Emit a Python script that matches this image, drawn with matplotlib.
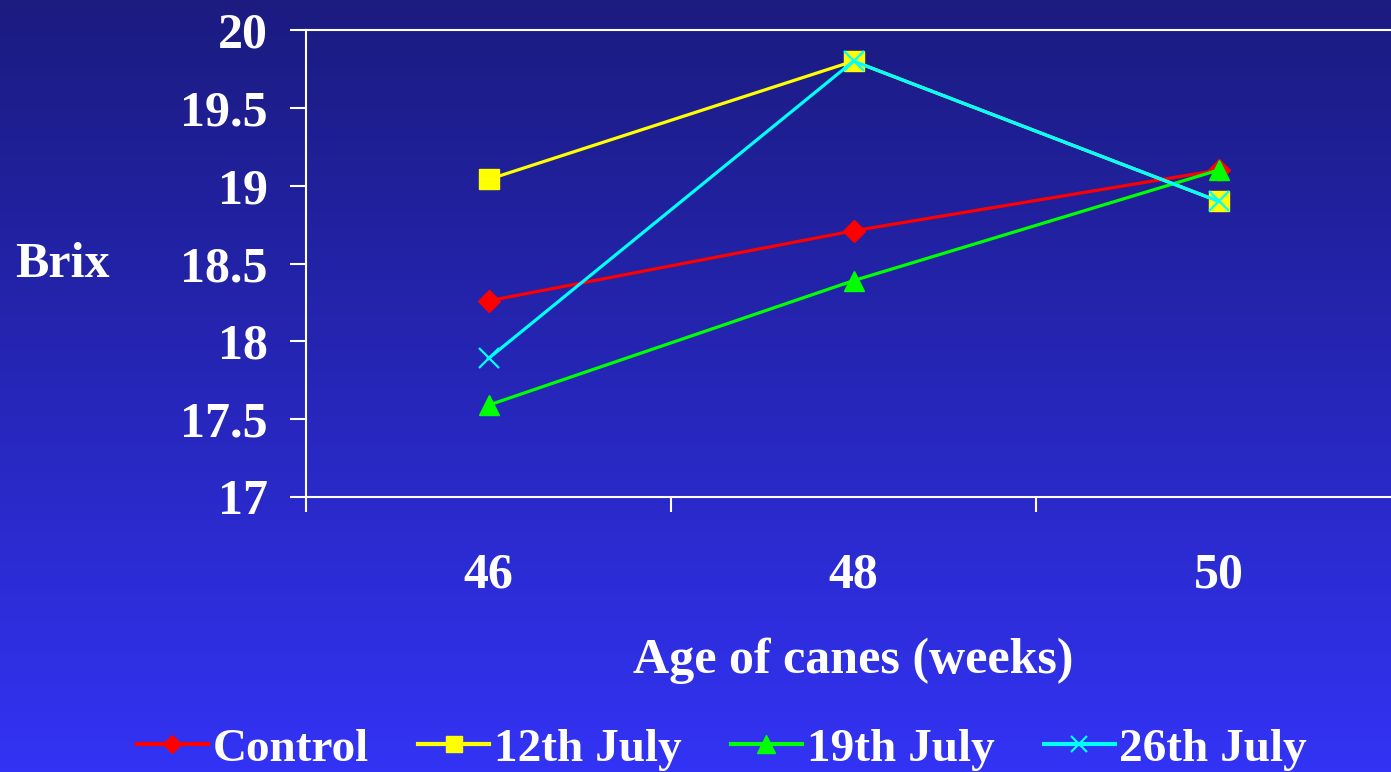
import numpy as np
import matplotlib.pyplot as plt
from matplotlib.colors import LinearSegmentedColormap

weeks = ['46', '48', '50']
control = [18.26, 18.71, 19.10]
july12 = [19.04, 19.80, 18.90]
july19 = [17.59, 18.39, 19.10]
july26 = [17.89, 19.80, 18.90]

W, H = 1391, 772
fig = plt.figure(figsize=(W / 100, H / 100), dpi=100)

# background gradient, dark navy at top to bright blue at bottom
bg = fig.add_axes([0, 0, 1, 1])
grad = LinearSegmentedColormap.from_list('bg', ['#1b1b80', '#2626b8', '#3333f5'])
bg.imshow(np.linspace(0, 1, 256).reshape(-1, 1), aspect='auto', cmap=grad,
          extent=[0, 1, 0, 1])
bg.axis('off')

# plot area runs a little past the right edge of the picture
x0, x1 = 306 / W, 1401 / W
y0, y1 = 1 - 497 / H, 1 - 30 / H
ax = fig.add_axes([x0, y0, x1 - x0, y1 - y0])
ax.patch.set_alpha(0)

x = np.arange(len(weeks))
lw = 2.3
ax.plot(x, control, color='#ff0000', lw=lw, marker='D', ms=11, label='Control')
ax.plot(x, july12, color='#ffff00', lw=lw, marker='s', ms=14, label='12th July')
ax.plot(x, july19, color='#00ff00', lw=lw, marker='^', ms=15, label='19th July')
ax.plot(x, july26, color='#00ffff', lw=lw, marker='x', ms=14, mew=1.6,
        label='26th July')

ax.set_xlim(-0.5, 2.5)
ax.set_ylim(17, 20)
ax.set_yticks(np.arange(17, 20.01, 0.5))
ax.set_yticklabels(['17', '17.5', '18', '18.5', '19', '19.5', '20'])
ax.set_xticks(x)
ax.set_xticklabels(weeks)
ax.set_xticks([-0.5, 0.5, 1.5, 2.5], minor=True)

font = dict(family='Liberation Serif', weight='bold', color='white')
for lab in ax.get_yticklabels() + ax.get_xticklabels():
    lab.set_fontfamily('Liberation Serif')
    lab.set_fontweight('bold')
    lab.set_fontsize(36)
ax.tick_params(axis='y', colors='white', length=11.5, width=1.5, pad=16)
ax.tick_params(axis='x', which='major', colors='white', length=0, pad=40)
ax.tick_params(axis='x', which='minor', colors='white', length=11, width=1.5)

for s in ax.spines.values():
    s.set_color('white')
    s.set_linewidth(1.5)

ax.set_xlabel('Age of canes (weeks)', fontsize=36, labelpad=28, **font)
fig.text(62 / W, 1 - 265 / H, 'Brix', fontsize=36, ha='center', va='center', **font)

leg = fig.legend(loc='center', bbox_to_anchor=(722 / W, 1 - 749 / H), ncol=4,
                 frameon=False, handlelength=1.5, columnspacing=1.05,
                 handletextpad=0.1, markerscale=0.85,
                 prop=dict(family='Liberation Serif', weight='bold', size=34))
for t in leg.get_texts():
    t.set_color('white')
for h in leg.legend_handles:
    h.set_linewidth(3)

fig.savefig('out.png', dpi=100)
